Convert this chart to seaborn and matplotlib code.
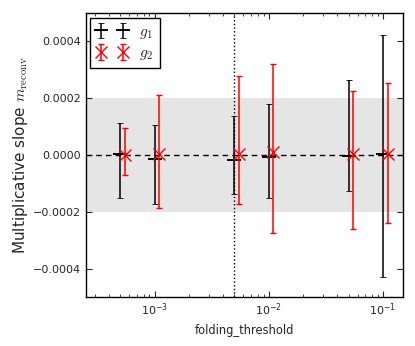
# Multiplicative slope vs folding threshold
import numpy as np
import matplotlib
matplotlib.use('Agg')
import matplotlib.pyplot as plt
import matplotlib.ticker as mticker
import seaborn as sns

# folding thresholds (g2 drawn slightly shifted to the right)
thresholds = [5e-4, 1e-3, 5e-3, 1e-2, 5e-2, 1e-1]
shift = 1.1

# g1 values and asymmetric error limits
g1_val = [5e-6, -1.3e-5, -1.6e-5, -7e-6, -2e-6, 5e-6]
g1_low = [-1.53e-4, -1.74e-4, -1.36e-4, -1.53e-4, -1.25e-4, -4.29e-4]
g1_high = [1.11e-4, 1.07e-4, 1.39e-4, 1.79e-4, 2.65e-4, 4.23e-4]

# g2 values and asymmetric error limits
g2_val = [0.0, 2e-6, 5e-6, 1e-5, 5e-6, 5e-6]
g2_low = [-7.1e-5, -1.85e-4, -1.73e-4, -2.76e-4, -2.62e-4, -2.39e-4]
g2_high = [9.5e-5, 2.1e-4, 2.77e-4, 3.19e-4, 2.26e-4, 2.53e-4]

requirement = 2e-4
chosen_threshold = 5e-3

sns.set_style('ticks')
plt.rcParams['font.family'] = ['DejaVu Sans']
plt.rcParams['mathtext.fontset'] = 'cm'
plt.rcParams['xtick.direction'] = 'in'
plt.rcParams['ytick.direction'] = 'in'
plt.rcParams['xtick.top'] = True
plt.rcParams['ytick.right'] = True

fig = plt.figure(figsize=(4.15, 3.46), dpi=100)
ax = fig.add_axes([0.207, 0.1416, 0.764, 0.8208])

# requirement band and reference lines
ax.axhspan(-requirement, requirement, color='#e5e5e5', lw=0, zorder=0)
ax.axhline(0, color='k', ls=(0, (4, 3)), lw=1, zorder=1)
ax.axvline(chosen_threshold, color='k', ls=':', lw=1, zorder=1)

x1 = np.array(thresholds)
x2 = x1 * shift
v1 = np.array(g1_val)
v2 = np.array(g2_val)
err1 = [v1 - np.array(g1_low), np.array(g1_high) - v1]
err2 = [v2 - np.array(g2_low), np.array(g2_high) - v2]

eb1 = ax.errorbar(x1, v1, yerr=err1, fmt='_', color='k', ms=10,
                  elinewidth=1.1, capsize=2.5, capthick=0.6, label='$g_1$', zorder=3)
eb1.lines[0].set_markeredgewidth(1.4)  # thicker centre bar only
ax.errorbar(x2, v2, yerr=err2, fmt='x', color='r', ms=9, mew=1,
            elinewidth=1.1, capsize=2.5, capthick=0.6, label='$g_2$', zorder=4)

ax.set_xscale('log')
ax.set_xlim(2.5e-4, 0.15)
ax.set_ylim(-0.0005, 0.0005)
ax.set_yticks([-0.0004, -0.0002, 0.0, 0.0002, 0.0004])
ax.yaxis.set_major_formatter(
    mticker.FuncFormatter(lambda v, p: ('%.4f' % v).replace('-', '\u2212')))
ax.xaxis.set_major_formatter(
    mticker.FuncFormatter(lambda v, p: '$\\mathdefault{10^{%d}}$' % round(np.log10(v))))
ax.tick_params(labelsize=8, length=4, width=0.8)
ax.tick_params(which='minor', length=2, width=0.6)
for s in ax.spines.values():
    s.set_linewidth(1)
    s.set_color('k')

ax.set_xlabel('folding_threshold', fontsize=8.3)
ax.set_ylabel('Multiplicative slope $m_{\\rm reconv}$', fontsize=11, labelpad=2)

leg = ax.legend(loc='upper left', numpoints=2, fancybox=False, framealpha=1,
                edgecolor='k', fontsize=11, handlelength=2.0,
                borderaxespad=0.3, labelspacing=0.3)
leg.get_frame().set_linewidth(1)

plt.savefig('out.png', dpi=100)
